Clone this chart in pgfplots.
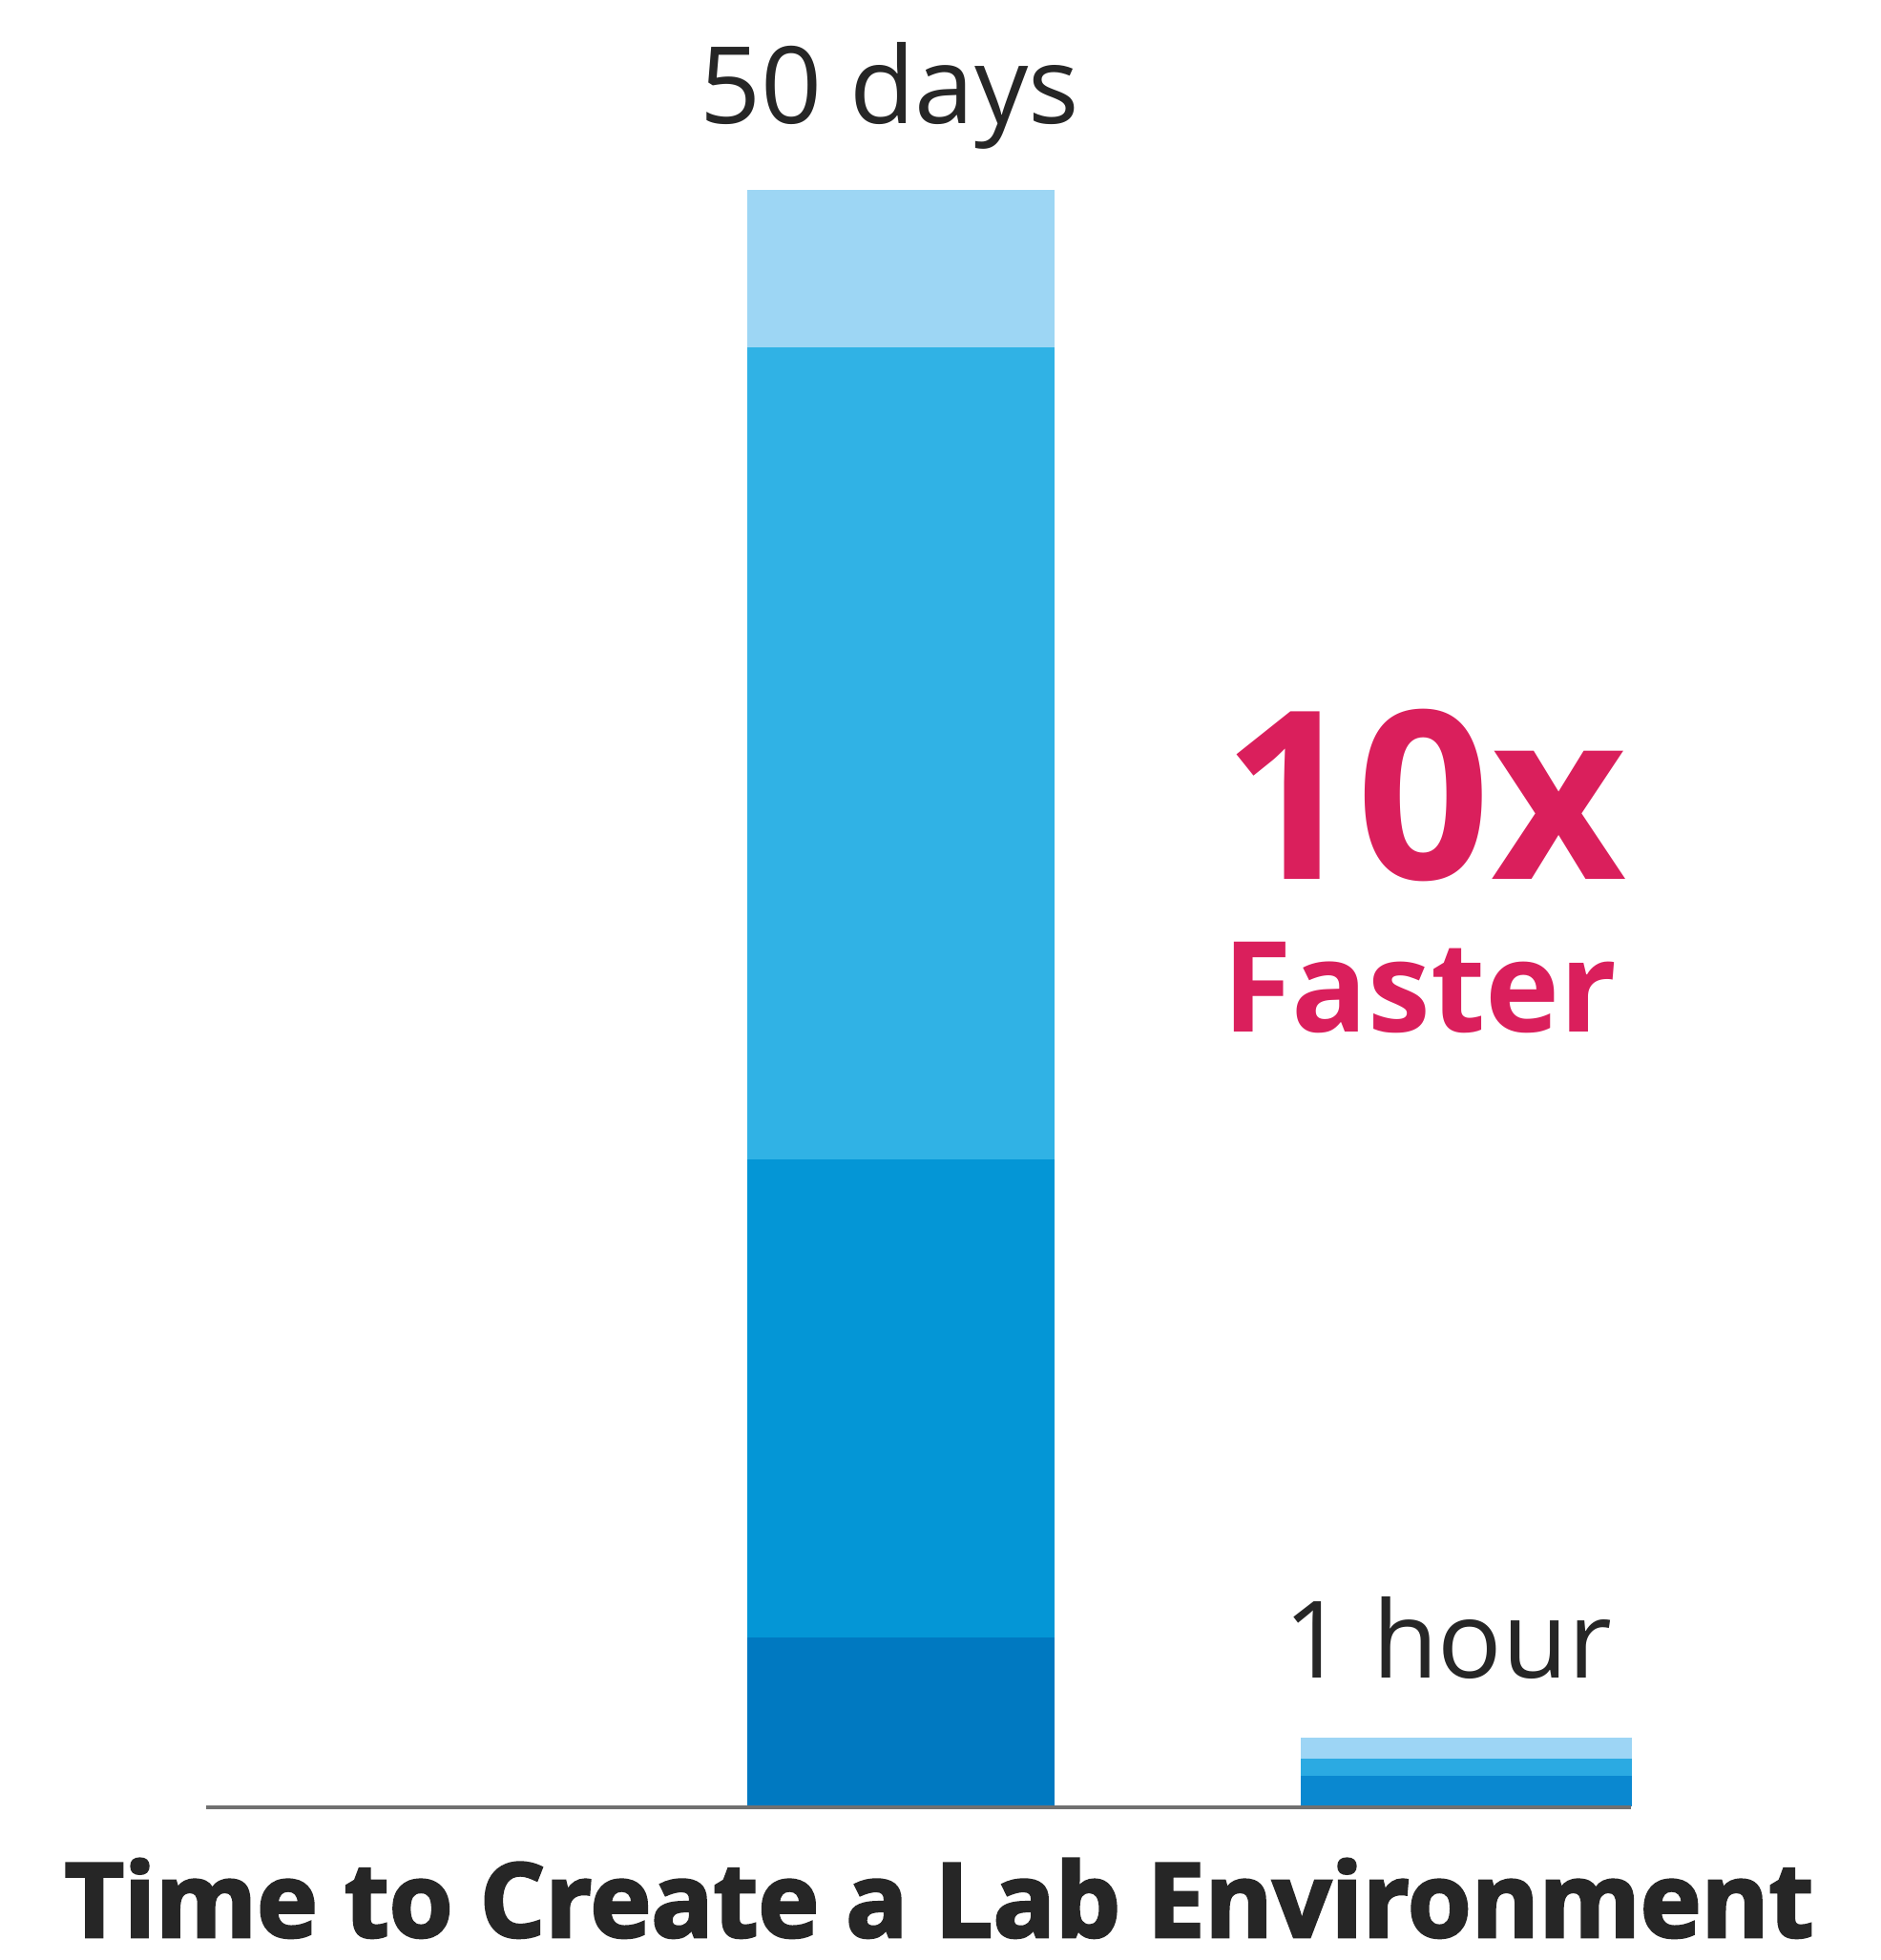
\documentclass[border=0pt]{standalone}
\usepackage{pgfplots}
\pgfplotsset{compat=1.18}
\usepackage{fontspec}
\setmainfont{Open Sans}
\newfontfamily\heavyfont[FakeBold=2.6]{Open Sans Bold}
\definecolor{cA}{HTML}{0079C1}
\definecolor{cB}{HTML}{0496D6}
\definecolor{cC}{HTML}{30B2E5}
\definecolor{cD}{HTML}{9DD6F4}
\definecolor{sA}{HTML}{0A88D0}
\definecolor{sB}{HTML}{2BAAE2}
\definecolor{sC}{HTML}{9DD5F5}
\definecolor{pinkc}{HTML}{DA1F5C}
\definecolor{txt}{HTML}{262626}
\pgfplotsset{
  base/.style={
    scale only axis, width=492.5pt, height=513.5pt,
    xmin=0, xmax=1970, ymin=-4.752, ymax=55.874,
    hide axis, clip=false, ybar stacked,
  }
}
\begin{document}
\begin{tikzpicture}
% 50 days bar
\begin{axis}[base, bar width=322]
\path (rel axis cs:0,0) rectangle (rel axis cs:1,1);
\addplot[fill=cA, draw=none] coordinates {(944,5.22)};
\addplot[fill=cB, draw=none] coordinates {(944,14.79)};
\addplot[fill=cC, draw=none] coordinates {(944,25.12)};
\addplot[fill=cD, draw=none] coordinates {(944,4.87)};
\node[anchor=base, font=\fontsize{28}{30}\selectfont, text=txt, inner sep=0pt] at (axis cs:932,52.04) {50 days};
\node[anchor=base, font=\fontsize{61.5}{64}\selectfont\bfseries, text=pinkc, inner sep=0pt] at (axis cs:1493,28.66) {10x};
\node[anchor=base, font=\fontsize{33}{35}\selectfont\bfseries, text=pinkc, inner sep=0pt] at (axis cs:1488,23.94) {Faster};
\node[anchor=base, font=\fontsize{28}{30}\selectfont, text=txt, inner sep=0pt] at (axis cs:1517,3.98) {1 hour};
\node[anchor=base, font=\heavyfont\fontsize{27}{29}\selectfont, text=txt, inner sep=0pt] at (axis cs:984,-4.04) {Time to Create a Lab Environment};
\end{axis}
% 1 hour bar
\begin{axis}[base, bar width=347]
\addplot[fill=sA, draw=none] coordinates {(1536.5,0.94)};
\addplot[fill=sB, draw=none] coordinates {(1536.5,0.53)};
\addplot[fill=sC, draw=none] coordinates {(1536.5,0.65)};
\end{axis}
\begin{axis}[scale only axis, width=492.5pt, height=513.5pt,
    xmin=0, xmax=1970, ymin=-4.752, ymax=55.874, hide axis, clip=false]
\addplot[color={rgb,255:red,112;green,112;blue,112}, line width=0.8pt] coordinates {(216,-0.03) (1709,-0.03)};
\end{axis}
\end{tikzpicture}
\end{document}
